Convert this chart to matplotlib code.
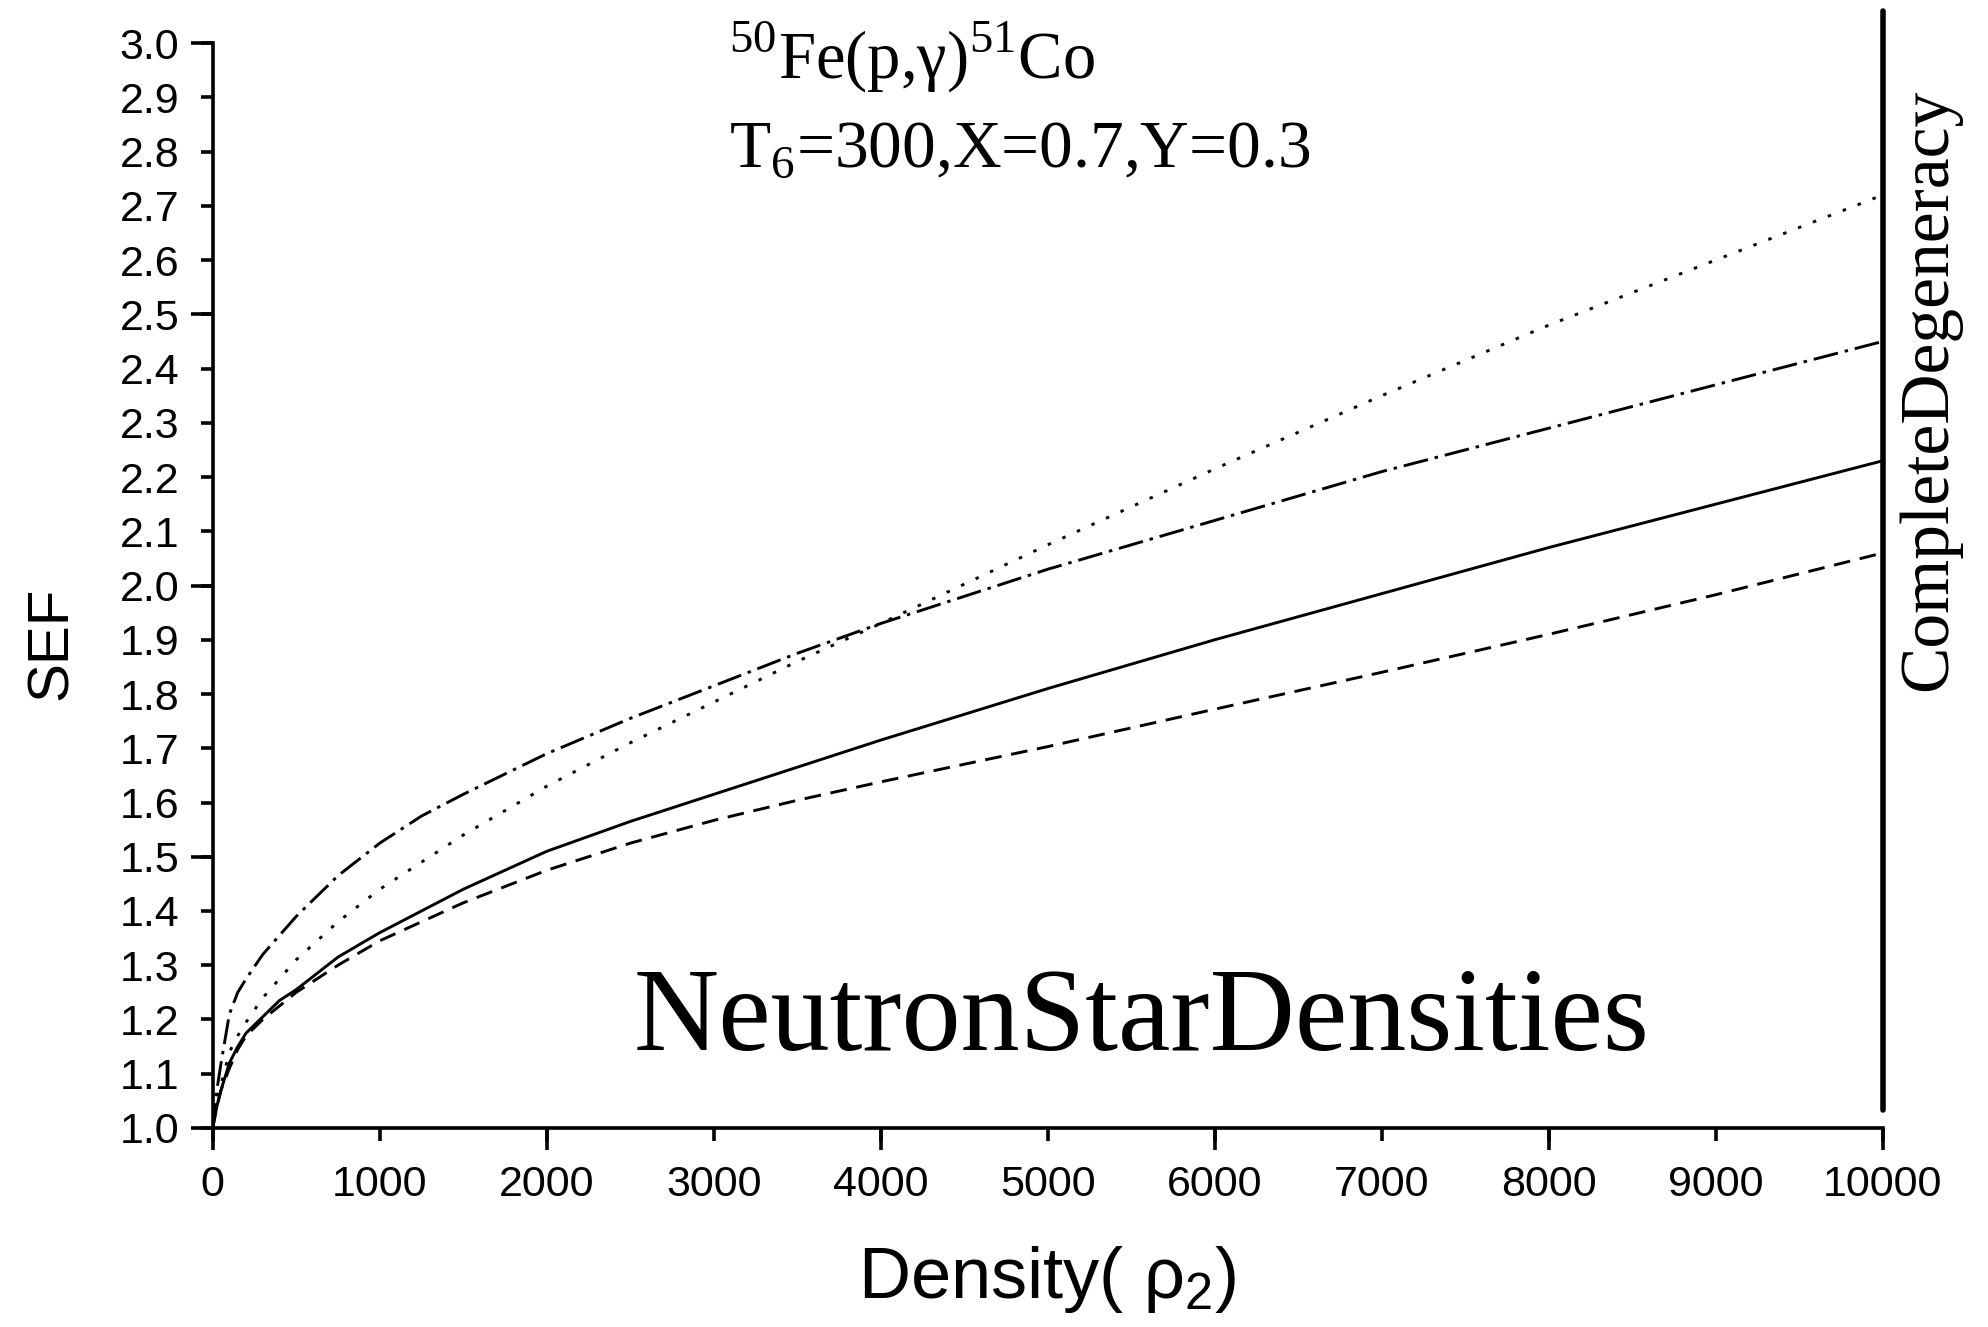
import matplotlib
matplotlib.use("Agg")
import matplotlib.pyplot as plt
from matplotlib.ticker import MultipleLocator, FixedLocator

# SEF vs density
density = [0, 25, 50, 100, 150, 200, 300, 400, 500, 750, 1000, 1250, 1500,
           2000, 2500, 3000, 3500, 4000, 5000, 6000, 7000, 8000, 9000, 10000]
sef_solid = [1.00, 1.04, 1.07, 1.12, 1.15, 1.175, 1.205, 1.235, 1.255, 1.315,
             1.36, 1.40, 1.44, 1.51, 1.565, 1.615, 1.665, 1.715, 1.81, 1.90,
             1.985, 2.07, 2.15, 2.23]
sef_dashed = [1.00, 1.04, 1.07, 1.11, 1.145, 1.17, 1.20, 1.225, 1.25, 1.30,
              1.345, 1.38, 1.415, 1.475, 1.525, 1.567, 1.604, 1.638, 1.703, 1.772,
              1.84, 1.91, 1.983, 2.06]
sef_dashdot = [1.00, 1.07, 1.12, 1.21, 1.25, 1.275, 1.32, 1.355, 1.39, 1.465,
               1.525, 1.575, 1.615, 1.69, 1.755, 1.815, 1.875, 1.93, 2.03, 2.12,
               2.21, 2.29, 2.37, 2.45]
sef_dotted = [1.00, 1.05, 1.08, 1.14, 1.17, 1.195, 1.24, 1.275, 1.31, 1.38,
              1.44, 1.49, 1.54, 1.63, 1.71, 1.785, 1.86, 1.93, 2.075, 2.215,
              2.35, 2.48, 2.60, 2.72]

x_labels = [str(v) for v in range(0, 10001, 1000)]
y_labels = ["%.1f" % (1.0 + 0.1 * i) for i in range(21)]

plt.rcParams["lines.scale_dashes"] = False
plt.rcParams["mathtext.fontset"] = "custom"
plt.rcParams["mathtext.rm"] = "Liberation Serif"
plt.rcParams["mathtext.sf"] = "Liberation Sans"

sans = ["Liberation Sans"]
serif = ["Liberation Serif"]

fig = plt.figure(figsize=(19.88, 13.27), dpi=100)
ax = fig.add_axes([0.107, 0.150, 0.840, 0.8175])

lw = 2.1
ax.plot(density, sef_solid, color="black", lw=lw, ls="-")
ax.plot(density, sef_dashed, color="black", lw=lw, ls=(0, (12, 7)))
ax.plot(density, sef_dashdot, color="black", lw=lw, ls=(0, (18, 5, 2.5, 5)))
ax.plot(density, sef_dotted, color="black", lw=lw, ls=(0, (2.5, 9)))

# complete degeneracy limit
ax.plot([10000, 10000], [1.033, 3.06], color="black", lw=4.0,
        clip_on=False, solid_capstyle="round")

ax.set_xlim(0, 10000)
ax.set_ylim(1.0, 3.0)

for s in ["top", "right"]:
    ax.spines[s].set_visible(False)
for s in ["left", "bottom"]:
    ax.spines[s].set_linewidth(2.6)

# labelled short ticks every step, long ticks on top of some of them
ax.xaxis.set_major_locator(MultipleLocator(1000))
ax.xaxis.set_minor_locator(FixedLocator(range(0, 10001, 2000)))
ax.yaxis.set_major_locator(MultipleLocator(0.1))
ax.yaxis.set_minor_locator(FixedLocator([1.0, 1.5, 2.0, 2.5, 3.0]))
ax.xaxis.remove_overlapping_locs = False
ax.yaxis.remove_overlapping_locs = False
ax.set_xticks(range(0, 10001, 1000), x_labels)
ax.set_yticks([1.0 + 0.1 * i for i in range(21)], y_labels)

ax.tick_params(which="major", direction="out", length=9, width=2.6)
ax.tick_params(which="minor", direction="out", length=16, width=2.6)
ax.tick_params(axis="x", which="major", pad=18, labelsize=31)
ax.tick_params(axis="y", which="major", pad=15, labelsize=31)
for lab in ax.get_xticklabels() + ax.get_yticklabels():
    lab.set_family(sans)

ax.set_xlabel("Density( ρ$_\\mathsf{2}$)", family=sans, fontsize=52)
ax.xaxis.set_label_coords(0.5, -0.107)
ax.set_ylabel("SEF", family=sans, fontsize=42)
ax.yaxis.set_label_coords(-0.08, 0.447)

ax.text(3090, 2.934, "$^{50}$Fe(p,γ)$^{51}$Co", family=serif, fontsize=48,
        ha="left", va="baseline")
ax.text(3090, 2.771, "T$_6$=300,X=0.7,Y=0.3", family=serif, fontsize=48.5,
        ha="left", va="baseline")
ax.text(5560, 1.144, "NeutronStarDensities", family=serif, fontsize=85,
        ha="center", va="baseline")
fig.text(0.979, 0.706, "CompleteDegeneracy", family=serif, fontsize=50,
         rotation=90, rotation_mode="anchor", ha="center", va="baseline")

fig.savefig("out.png", dpi=100)
